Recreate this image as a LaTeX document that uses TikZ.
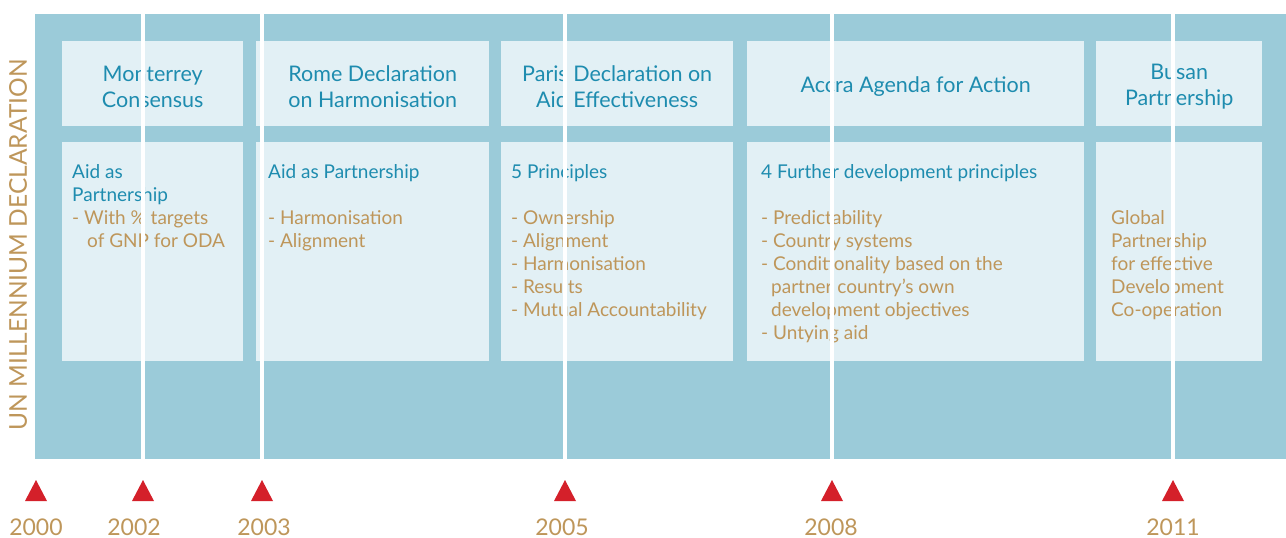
\documentclass[tikz,border=0pt]{standalone}
\usepackage{fontspec}
\setmainfont{Lato}
\usepackage{xcolor}
\usetikzlibrary{positioning}
\definecolor{bgblue}{HTML}{9BCBD9}
\definecolor{boxfill}{HTML}{E2F0F5}
\definecolor{tblue}{HTML}{1E8CAF}
\definecolor{tanbrown}{HTML}{BE965A}
\definecolor{redmark}{HTML}{D4202A}

\begin{document}
\begin{tikzpicture}[x=1pt, y=-1pt,
    hbox/.style={fill=boxfill, anchor=north west, inner sep=0pt},
    htext/.style={inner sep=0pt, align=center, text=tblue,
        font=\fontsize{21.5}{26}\selectfont},
    bbox/.style={fill=boxfill, anchor=north west, inner sep=0pt},
    btext/.style={inner sep=0pt, align=left, text=tanbrown,
        font=\fontsize{19}{23}\selectfont},
    year/.style={text=tanbrown, font=\fontsize{23}{23}\selectfont},
    tick/.style={draw=white, line width=3.3pt}]
    \useasboundingbox (0,0) rectangle (1286,538);

    % background band
    \fill[bgblue] (35,14) rectangle (1286,459);
    \node[rotate=90, text=tanbrown, font=\fontsize{24.5}{24}\selectfont] (undecl) at (18,245) {UN MILLENNIUM DECLARATION};

    % header and body boxes
    \foreach \n/\lft/\rgt/\txt in {1/62/243/{Monterrey\\Consensus},
                              2/256/489/{Rome Declaration\\on Harmonisation},
                              3/501/733/{Paris Declaration on\\Aid Effectiveness},
                              4/747/1084/{Accra Agenda for Action},
                              5/1096/1262/{Busan\\Partnership}} {
        \node[hbox, minimum width={(\rgt-\lft)*1pt}, minimum height=85pt] (hd\n) at (\lft,41) {};
        \node[htext] (ht\n) at ([yshift=-3pt]hd\n.center) {\txt};
        \node[bbox, minimum width={(\rgt-\lft)*1pt}, minimum height=219pt] (bd\n) at (\lft,142) {};
    }

    \node[btext, below right=22pt and 10pt of bd1.north west] (tx1)
        {\color{tblue}Aid as\\\color{tblue}Partnership\\- With \% targets\\\hspace{15pt}of GNP for ODA};
    \node[btext, below right=22pt and 12pt of bd2.north west] (tx2)
        {\color{tblue}Aid as Partnership\\\mbox{}\\- Harmonisation\\- Alignment};
    \node[btext, below right=22pt and 10pt of bd3.north west] (tx3)
        {\color{tblue}5 Principles\\\mbox{}\\- Ownership\\- Alignment\\- Harmonisation\\- Results\\- Mutual Accountability};
    \node[btext, below right=22pt and 14pt of bd4.north west] (tx4)
        {\color{tblue}4 Further development principles\\\mbox{}\\- Predictability\\- Country systems\\- Conditionality based on the\\\hspace{10pt}partner country's own\\\hspace{10pt}development objectives\\- Untying aid};
    \node[btext, below right=68pt and 15pt of bd5.north west] (tx5)
        {Global\\Partnership\\for effective\\Development\\Co-operation};

    % year markers
    \foreach \x/\lx/\yr in {36/36/2000, 143/134/2002, 262/264/2003, 565/562/2005, 832/831/2008, 1173/1173/2011} {
        \ifnum\yr>2000
            \draw[tick] (\x,14) -- (\x,459);
        \fi
        \fill[redmark] (\x-11,501) -- (\x+11,501) -- (\x,480) -- cycle;
        \node[year] (y\yr) at (\lx,527) {\yr};
    }

\end{tikzpicture}
\end{document}
